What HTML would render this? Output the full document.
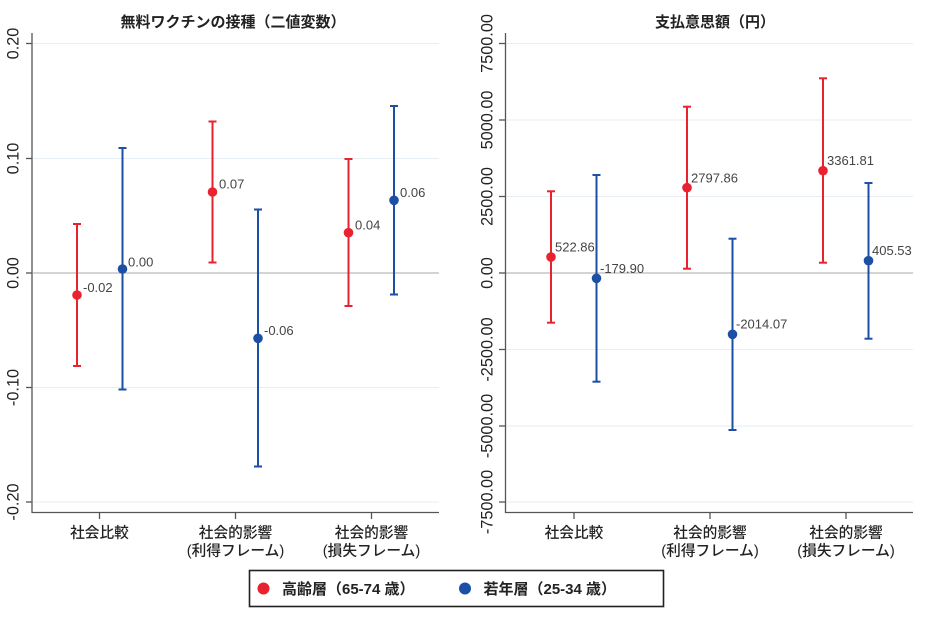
<!DOCTYPE html>
<html><head><meta charset="utf-8">
<style>
html,body{margin:0;padding:0;background:#fff;}
svg{display:block;}
text{font-family:"Liberation Sans","Noto Sans CJK JP",sans-serif;}
.t{font-size:15px;font-weight:bold;fill:#222;}
.tick{font-size:16.3px;fill:#222;}
.cat{font-size:14.7px;fill:#222;font-weight:500;}
.val{font-size:13px;fill:#444;}
.leg{font-size:15px;fill:#222;font-weight:bold;}
</style></head>
<body>
<svg width="936" height="617" viewBox="0 0 936 617" xmlns="http://www.w3.org/2000/svg">
<rect width="936" height="617" fill="#fff"/>

<!-- LEFT PANEL -->
<text class="t" x="233" y="27" text-anchor="middle">無料ワクチンの接種（二値変数）</text>
<g stroke="#e6eef3" stroke-width="1">
<line x1="33" y1="43.5" x2="439" y2="43.5"/>
<line x1="33" y1="158.5" x2="439" y2="158.5"/>
<line x1="33" y1="387.5" x2="439" y2="387.5"/>
<line x1="33" y1="502" x2="439" y2="502"/>
</g>
<line x1="33" y1="273" x2="439" y2="273" stroke="#a8a8a8" stroke-width="1"/>
<g stroke="#555" stroke-width="1.3">
<line x1="32" y1="33" x2="32" y2="513"/>
<line x1="32" y1="512.5" x2="439" y2="512.5"/>
<line x1="26" y1="43.5" x2="32" y2="43.5"/>
<line x1="26" y1="158.5" x2="32" y2="158.5"/>
<line x1="26" y1="273" x2="32" y2="273"/>
<line x1="26" y1="387.5" x2="32" y2="387.5"/>
<line x1="26" y1="502" x2="32" y2="502"/>
<line x1="99.5" y1="512" x2="99.5" y2="519"/>
<line x1="235.5" y1="512" x2="235.5" y2="519"/>
<line x1="371.5" y1="512" x2="371.5" y2="519"/>
</g>
<g class="tick" text-anchor="middle">
<text transform="translate(18.5,43.5) rotate(-90)">0.20</text>
<text transform="translate(18.5,158.5) rotate(-90)">0.10</text>
<text transform="translate(18.5,273) rotate(-90)">0.00</text>
<text transform="translate(18.5,387.5) rotate(-90)">-0.10</text>
<text transform="translate(18.5,502) rotate(-90)">-0.20</text>
</g>
<g class="cat" text-anchor="middle">
<text x="99.5" y="537.5">社会比較</text>
<text x="235.5" y="537.5">社会的影響</text>
<text x="235.5" y="555.5">(利得フレーム)</text>
<text x="371.5" y="537.5">社会的影響</text>
<text x="371.5" y="555.5">(損失フレーム)</text>
</g>

<!-- left series -->
<g stroke="#e8232f" stroke-width="2" fill="none">
<line x1="77" y1="224" x2="77" y2="366"/><line x1="73" y1="224" x2="81" y2="224"/><line x1="73" y1="366" x2="81" y2="366"/>
<line x1="212.5" y1="121.5" x2="212.5" y2="262.5"/><line x1="208.5" y1="121.5" x2="216.5" y2="121.5"/><line x1="208.5" y1="262.5" x2="216.5" y2="262.5"/>
<line x1="348.5" y1="159" x2="348.5" y2="306"/><line x1="344.5" y1="159" x2="352.5" y2="159"/><line x1="344.5" y1="306" x2="352.5" y2="306"/>
</g>
<g stroke="#1d4fa5" stroke-width="2" fill="none">
<line x1="122.5" y1="148" x2="122.5" y2="389.5"/><line x1="118.5" y1="148" x2="126.5" y2="148"/><line x1="118.5" y1="389.5" x2="126.5" y2="389.5"/>
<line x1="258" y1="209.5" x2="258" y2="466.5"/><line x1="254" y1="209.5" x2="262" y2="209.5"/><line x1="254" y1="466.5" x2="262" y2="466.5"/>
<line x1="394" y1="106" x2="394" y2="294.5"/><line x1="390" y1="106" x2="398" y2="106"/><line x1="390" y1="294.5" x2="398" y2="294.5"/>
</g>
<g fill="#e8232f">
<circle cx="77" cy="295" r="4.8"/><circle cx="212.5" cy="192" r="4.8"/><circle cx="348.5" cy="232.7" r="4.8"/>
</g>
<g fill="#1d4fa5">
<circle cx="122.5" cy="269" r="4.8"/><circle cx="258" cy="338.3" r="4.8"/><circle cx="394" cy="200.3" r="4.8"/>
</g>
<g class="val">
<text x="83" y="292">-0.02</text>
<text x="128" y="266.5">0.00</text>
<text x="219" y="188.5">0.07</text>
<text x="264" y="335">-0.06</text>
<text x="355" y="229.5">0.04</text>
<text x="400" y="197">0.06</text>
</g>

<!-- RIGHT PANEL -->
<text class="t" x="715" y="27" text-anchor="middle">支払意思額（円）</text>
<g stroke="#e6eef3" stroke-width="1">
<line x1="506" y1="43.5" x2="913" y2="43.5"/>
<line x1="506" y1="120" x2="913" y2="120"/>
<line x1="506" y1="196.5" x2="913" y2="196.5"/>
<line x1="506" y1="349.5" x2="913" y2="349.5"/>
<line x1="506" y1="426" x2="913" y2="426"/>
<line x1="506" y1="502" x2="913" y2="502"/>
</g>
<line x1="506" y1="273" x2="913" y2="273" stroke="#a8a8a8" stroke-width="1"/>
<g stroke="#555" stroke-width="1.3">
<line x1="505.5" y1="33" x2="505.5" y2="513"/>
<line x1="505" y1="512.5" x2="913" y2="512.5"/>
<line x1="499" y1="43.5" x2="505" y2="43.5"/>
<line x1="499" y1="120" x2="505" y2="120"/>
<line x1="499" y1="196.5" x2="505" y2="196.5"/>
<line x1="499" y1="273" x2="505" y2="273"/>
<line x1="499" y1="349.5" x2="505" y2="349.5"/>
<line x1="499" y1="426" x2="505" y2="426"/>
<line x1="499" y1="502" x2="505" y2="502"/>
<line x1="574" y1="512" x2="574" y2="519"/>
<line x1="710" y1="512" x2="710" y2="519"/>
<line x1="846" y1="512" x2="846" y2="519"/>
</g>
<g class="tick" text-anchor="middle">
<text transform="translate(492.5,43.5) rotate(-90)">7500.00</text>
<text transform="translate(492.5,120) rotate(-90)">5000.00</text>
<text transform="translate(492.5,196.5) rotate(-90)">2500.00</text>
<text transform="translate(492.5,273) rotate(-90)">0.00</text>
<text transform="translate(492.5,349.5) rotate(-90)">-2500.00</text>
<text transform="translate(492.5,426) rotate(-90)">-5000.00</text>
<text transform="translate(492.5,502) rotate(-90)">-7500.00</text>
</g>
<g class="cat" text-anchor="middle">
<text x="574" y="537.5">社会比較</text>
<text x="710" y="537.5">社会的影響</text>
<text x="710" y="555.5">(利得フレーム)</text>
<text x="846" y="537.5">社会的影響</text>
<text x="846" y="555.5">(損失フレーム)</text>
</g>

<g stroke="#e8232f" stroke-width="2" fill="none">
<line x1="551" y1="191.3" x2="551" y2="322.7"/><line x1="547" y1="191.3" x2="555" y2="191.3"/><line x1="547" y1="322.7" x2="555" y2="322.7"/>
<line x1="687" y1="106.7" x2="687" y2="268.7"/><line x1="683" y1="106.7" x2="691" y2="106.7"/><line x1="683" y1="268.7" x2="691" y2="268.7"/>
<line x1="823" y1="78.3" x2="823" y2="262.7"/><line x1="819" y1="78.3" x2="827" y2="78.3"/><line x1="819" y1="262.7" x2="827" y2="262.7"/>
</g>
<g stroke="#1d4fa5" stroke-width="2" fill="none">
<line x1="596.5" y1="175" x2="596.5" y2="381.7"/><line x1="592.5" y1="175" x2="600.5" y2="175"/><line x1="592.5" y1="381.7" x2="600.5" y2="381.7"/>
<line x1="732.5" y1="238.7" x2="732.5" y2="430"/><line x1="728.5" y1="238.7" x2="736.5" y2="238.7"/><line x1="728.5" y1="430" x2="736.5" y2="430"/>
<line x1="868.5" y1="183" x2="868.5" y2="338.7"/><line x1="864.5" y1="183" x2="872.5" y2="183"/><line x1="864.5" y1="338.7" x2="872.5" y2="338.7"/>
</g>
<g fill="#e8232f">
<circle cx="551" cy="257" r="4.8"/><circle cx="687" cy="187.7" r="4.8"/><circle cx="823" cy="170.7" r="4.8"/>
</g>
<g fill="#1d4fa5">
<circle cx="596.5" cy="278.3" r="4.8"/><circle cx="732.5" cy="334.3" r="4.8"/><circle cx="868.5" cy="260.7" r="4.8"/>
</g>
<g class="val">
<text x="555" y="251.5">522.86</text>
<text x="600" y="273">-179.90</text>
<text x="691" y="182.5">2797.86</text>
<text x="736" y="328.5">-2014.07</text>
<text x="827" y="165">3361.81</text>
<text x="872" y="255">405.53</text>
</g>

<!-- LEGEND -->
<rect x="249.5" y="570.5" width="414" height="36" fill="#fff" stroke="#222" stroke-width="1.6"/>
<circle cx="263.5" cy="588.5" r="6" fill="#e8232f"/>
<text class="leg" x="282" y="594">高齢層（65-74 歳）</text>
<circle cx="465" cy="588.5" r="6" fill="#1d4fa5"/>
<text class="leg" x="483.5" y="594">若年層（25-34 歳）</text>
</svg>
</body></html>
